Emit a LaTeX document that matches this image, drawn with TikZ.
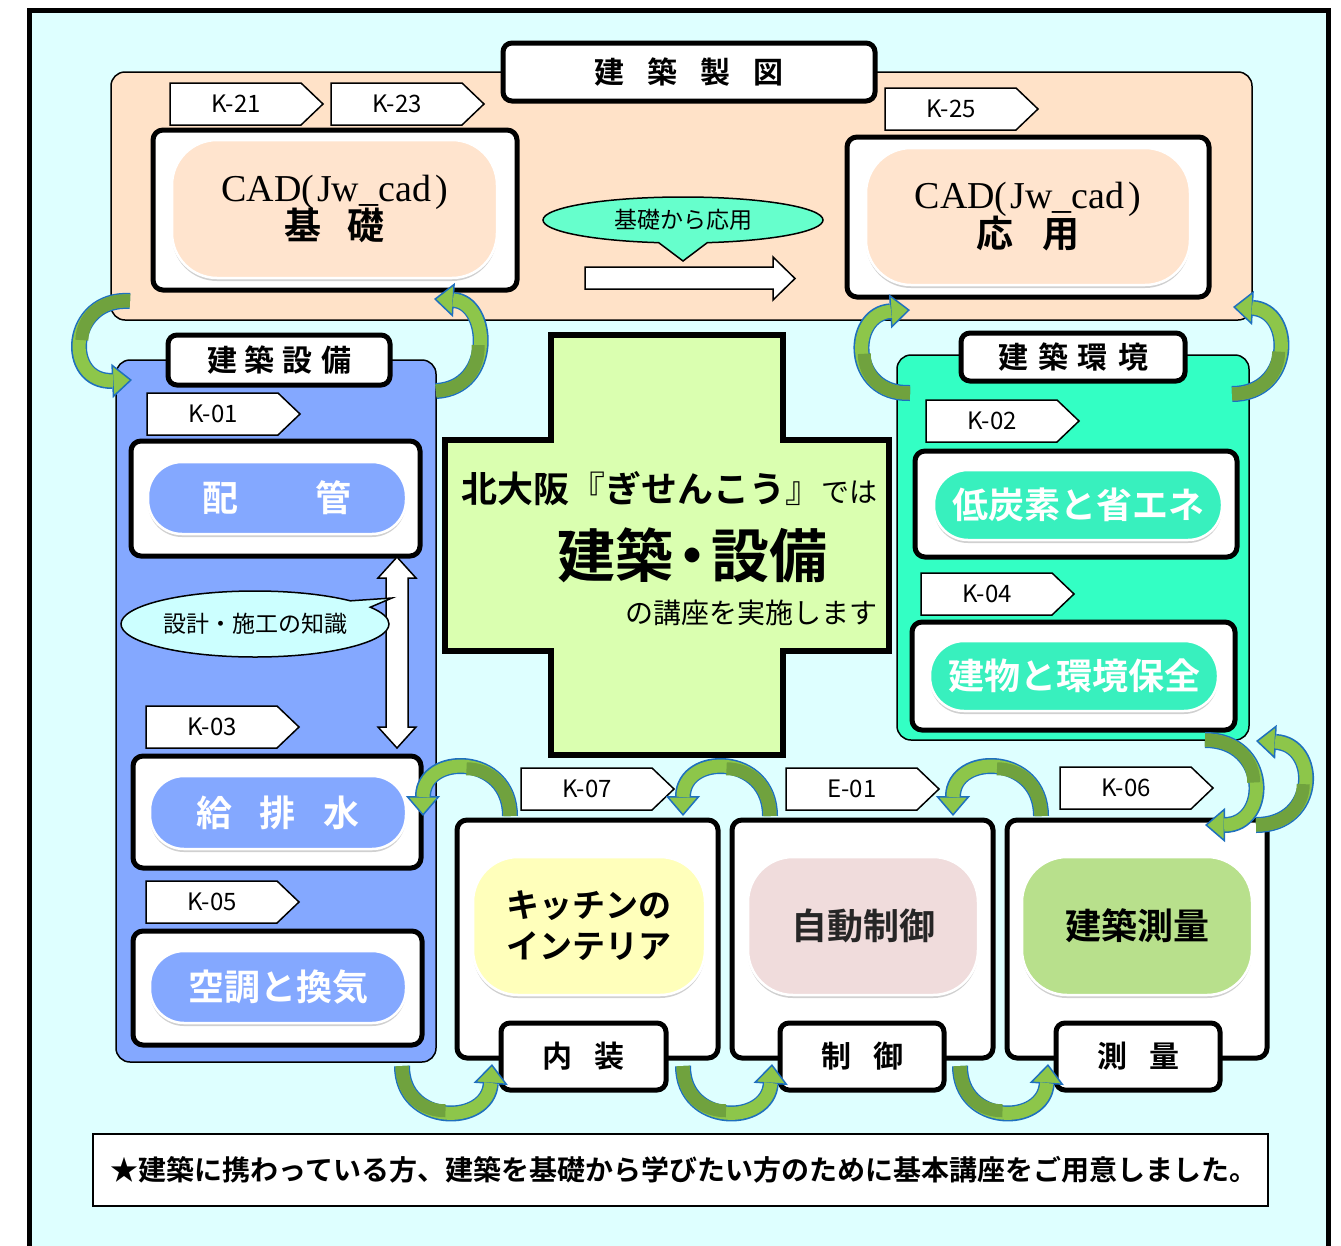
\documentclass[tikz,border=0pt]{standalone}
\usepackage{fontspec}
\setmainfont{Noto Sans CJK JP}[BoldFont={Noto Sans CJK JP Bold}]
\newfontfamily\cadfont{Liberation Serif}
\usetikzlibrary{arrows.meta,shapes.callouts,shadows,calc}

\definecolor{skybg}{RGB}{222,255,255}
\definecolor{cadpeach}{RGB}{255,226,200}
\definecolor{pillpeach}{RGB}{255,228,206}
\definecolor{setsubiblue}{RGB}{132,168,255}
\definecolor{kankyogreen}{RGB}{51,255,196}
\definecolor{pillgreen}{RGB}{56,240,190}
\definecolor{calloutmint}{RGB}{102,255,204}
\definecolor{calloutcyan}{RGB}{204,255,255}
\definecolor{crosslime}{RGB}{218,255,176}
\definecolor{pillyellow}{RGB}{255,255,187}
\definecolor{pillpink}{RGB}{240,220,220}
\definecolor{pillleaf}{RGB}{184,224,140}
\definecolor{arrowgreen}{RGB}{141,198,74}
\definecolor{arrowdark}{RGB}{112,162,62}
\definecolor{arrowblue}{RGB}{30,112,190}

\newcommand{\fs}[1]{\fontsize{#1}{#1}\selectfont}

\tikzset{
  panel/.style={draw=black, line width=1.5pt, rounded corners=14pt},
  frame/.style={draw=black, line width=5pt, fill=white, rounded corners=10pt},
  headbox/.style={draw=black, line width=5pt, fill=white, rounded corners=9pt,
    inner sep=0pt, font=\bfseries\fs{30}},
  pill/.style={rectangle, rounded corners=#1, draw=white, line width=2.5pt, inner sep=0pt,
    drop shadow={shadow xshift=0pt, shadow yshift=-3pt, opacity=0.3, fill=black!60}},
  pill/.default=34pt,
  pill-text/.style={font=\bfseries\fs{36}, text=white},
  tag-line/.style={draw=black, line width=1.5pt, fill=white},
  tag-text/.style={font=\fs{24}, inner sep=0pt},
  crossline/.style={draw=black, line width=6pt, fill=crosslime},
  whitearrow/.style={draw=black, line width=1.5pt, fill=white},
  swing-edge/.style={draw=arrowblue, line width=16pt,
    -{Triangle[length=20pt,width=34pt,line width=1.5pt,fill=arrowgreen]}},
  swing-body/.style={draw=arrowgreen, line width=13pt, shorten >=19pt},
  swing-dark/.style={draw=arrowdark, line width=13pt}
}

% course tag: name, left x, top y, label
\newcommand{\coursetag}[4]{
  \draw[tag-line] (#2,#3) -- ++(131,0) -- ++(22,21) -- ++(-22,21) -- ++(-131,0) -- cycle;
  \node[tag-text] (#1) at (#2+66,#3+21) {#4};
}
% curved ribbon arrow: tail, control 1, control 2, head (tail half darker)
\newcommand{\swing}[4]{
  \draw[swing-edge] #1 .. controls #2 and #3 .. #4;
  \draw[swing-body] #1 .. controls #2 and #3 .. #4;
  \draw[swing-dark] #1 .. controls ($0.5*#1+0.5*#2$) and ($0.25*#1+0.5*#2+0.25*#3$)
    .. ($0.125*#1+0.375*#2+0.375*#3+0.125*#4$);
}

\begin{document}
\begin{tikzpicture}[x=1pt,y=-1pt]
  \useasboundingbox (0,0) rectangle (1341,1245);
  \fill[white] (0,0) rectangle (1341,1245);
  \draw[line width=5pt, fill=skybg] (29.5,10) rectangle (1328.5,1280);

  % --- panels ---
  \draw[panel, fill=cadpeach] (111,72) rectangle (1252,320);
  \draw[panel, fill=setsubiblue] (116,360) rectangle (436,1062);
  \draw[panel, fill=kankyogreen] (897,355) rectangle (1249,740);

  % --- 建築製図 ---
  \coursetag{k21}{170}{83}{K-21}
  \coursetag{k23}{331}{83}{K-23}
  \coursetag{k25}{885}{88}{K-25}

  \draw[frame] (153,130) rectangle (517,290);
  \node[pill=45pt, fill=pillpeach, minimum width=325, minimum height=138,
    align=center] (cadbasic) at (334.5,209)
    {{\cadfont\fs{38}CAD(\kern3pt Jw\_cad\kern4pt)}\\[-2pt]{\bfseries\fs{37}基\hspace{27pt}礎}};

  \draw[frame] (847,137) rectangle (1209,297);
  \node[pill=45pt, fill=pillpeach, minimum width=324, minimum height=137,
    align=center] (cadapplied) at (1028,216.5)
    {{\cadfont\fs{38}CAD(\kern3pt Jw\_cad\kern4pt)}\\[-2pt]{\bfseries\fs{37}応\hspace{29pt}用}};

  \node[ellipse callout, draw=black, line width=1.5pt, fill=calloutmint,
    minimum width=280, minimum height=46, inner sep=0pt, callout pointer arc=20,
    callout absolute pointer={(683,261)}, font=\fs{23}] (basictoapp) at (683,220) {基礎から応用};
  \draw[whitearrow] (585,267) -- (773,267) -- (773,257) -- (795,278.5) -- (773,300)
    -- (773,289) -- (585,289) -- cycle;

  \node[headbox, minimum width=372, minimum height=58] (seizu) at (689,72)
    {建\hspace{23pt}築\hspace{23pt}製\hspace{23pt}図};

  % --- 建築設備 ---
  \node[headbox, minimum width=222, minimum height=50] (setsubi) at (279,360)
    {建\hspace{8pt}築\hspace{8pt}設\hspace{8pt}備};
  \coursetag{k01}{147}{393}{K-01}
  \draw[frame] (131,441) rectangle (420,556);
  \node[pill, fill=setsubiblue, minimum width=258, minimum height=72, pill-text]
    (haikan) at (277,498) {配\hspace{78pt}管};

  \draw[whitearrow] (397,557) -- (416,578) -- (408,578) -- (408,727) -- (416,727)
    -- (397,748) -- (378,727) -- (386,727) -- (386,578) -- (378,578) -- cycle;
  \node[ellipse callout, draw=black, line width=1.5pt, fill=calloutcyan,
    minimum width=268, minimum height=66, inner sep=0pt, callout pointer arc=14,
    callout absolute pointer={(392,598)}, font=\fs{23}] (chishiki) at (255,624)
    {設計・施工の知識};

  \coursetag{k03}{146}{706}{K-03}
  \draw[frame] (133,756) rectangle (421,868);
  \node[pill, fill=setsubiblue, minimum width=256, minimum height=73, pill-text]
    (kyuhaisui) at (278,812.5) {給\hspace{28pt}排\hspace{28pt}水};

  \coursetag{k05}{146}{881}{K-05}
  \draw[frame] (133,931) rectangle (422,1045);
  \node[pill, fill=setsubiblue, minimum width=256, minimum height=72, pill-text]
    (kucho) at (278,987) {空調と換気};

  % --- 建築環境 ---
  \node[headbox, minimum width=224, minimum height=48] (kankyo) at (1073,357)
    {建\hspace{10pt}築\hspace{10pt}環\hspace{10pt}境};
  \coursetag{k02}{926}{400}{K-02}
  \draw[frame] (915,451) rectangle (1237,557);
  \node[pill, fill=pillgreen, minimum width=288, minimum height=70, pill-text]
    (shoene) at (1078,505) {低炭素と省エネ};

  \coursetag{k04}{921}{573}{K-04}
  \draw[frame] (912,622) rectangle (1235,730);
  \node[pill, fill=pillgreen, minimum width=288, minimum height=70, pill-text]
    (hozen) at (1074,676) {建物と環境保全};

  % --- center cross ---
  \draw[crossline] (551,335) -- (783,335) -- (783,440) -- (889,440) -- (889,651)
    -- (783,651) -- (783,755) -- (551,755) -- (551,651) -- (445,651) -- (445,440)
    -- (551,440) -- cycle;
  \node[anchor=base west, inner sep=0pt] (kitaosaka) at (461,502)
    {{\bfseries\fs{36}北大阪}{\fs{36}『}{\bfseries\fs{36}ぎせんこう}{\fs{36}』}{\fs{28}では}};
  \node[inner sep=0pt, font=\bfseries\fs{58}] (kenchiku) at (692,555)
    {建築\kern-10pt・\kern-10pt設備};
  \node[anchor=base east, inner sep=0pt, font=\fs{28}] (koza) at (878,623)
    {の講座を実施します};

  % --- bottom row ---
  \coursetag{k07}{521}{768}{K-07}
  \coursetag{e01}{786}{768}{E-01}
  \coursetag{k06}{1060}{767}{K-06}

  \draw[frame] (457,820) rectangle (718,1058);
  \node[pill=45pt, fill=pillyellow, minimum width=232, minimum height=138,
    align=center, font=\bfseries\fontsize{33}{41}\selectfont] (kitchen) at (589,926)
    {キッチンの\\インテリア};
  \draw[frame] (732,820) rectangle (993,1058);
  \node[pill=45pt, fill=pillpink, minimum width=230, minimum height=138,
    font=\bfseries\fs{36}, text=black!85] (jidoseigyo) at (863,926) {自動制御};
  \draw[frame] (1007,820) rectangle (1267,1058);
  \node[pill=45pt, fill=pillleaf, minimum width=230, minimum height=138,
    font=\bfseries\fs{36}] (sokuryo) at (1137,926) {建築測量};

  \node[headbox, minimum width=165, minimum height=67] (naiso) at (583.5,1056.5)
    {内\hspace{22pt}装};
  \node[headbox, minimum width=164, minimum height=67] (seigyo) at (862,1056.5)
    {制\hspace{22pt}御};
  \node[headbox, minimum width=164, minimum height=67] (sokuryolabel) at (1138,1056.5)
    {測\hspace{22pt}量};

  % --- note ---
  \draw[line width=1.5pt, fill=white] (93,1134) rectangle (1268,1206);
  \node[inner sep=0pt, font=\bfseries\fs{28}] (note) at (684,1170)
    {★建築に携わっている方、建築を基礎から学びたい方のために基本講座をご用意しました。};

  % --- ribbon arrows ---
  \swing{(130,301)}{(68,297)}{(63,383)}{(132,380)}
  \swing{(436,391)}{(495,388)}{(490,302)}{(434,299)}
  \swing{(910,393)}{(849,395)}{(849,314)}{(910,310)}
  \swing{(1232,394)}{(1294,394)}{(1294,310)}{(1233,307)}
  \swing{(1205,740)}{(1270,740)}{(1270,825)}{(1205,825)}
  \swing{(1256,825)}{(1319,825)}{(1319,744)}{(1256,741)}
  \swing{(510,816)}{(510,753)}{(423,753)}{(423,816)}
  \swing{(770,816)}{(770,753)}{(683,753)}{(683,816)}
  \swing{(1041,816)}{(1041,753)}{(953,753)}{(953,816)}
  \swing{(402,1066)}{(402,1126)}{(488,1126)}{(492,1064)}
  \swing{(683,1066)}{(683,1126)}{(768,1126)}{(772,1064)}
  \swing{(960,1066)}{(960,1126)}{(1044,1126)}{(1048,1064)}
\end{tikzpicture}
\end{document}
